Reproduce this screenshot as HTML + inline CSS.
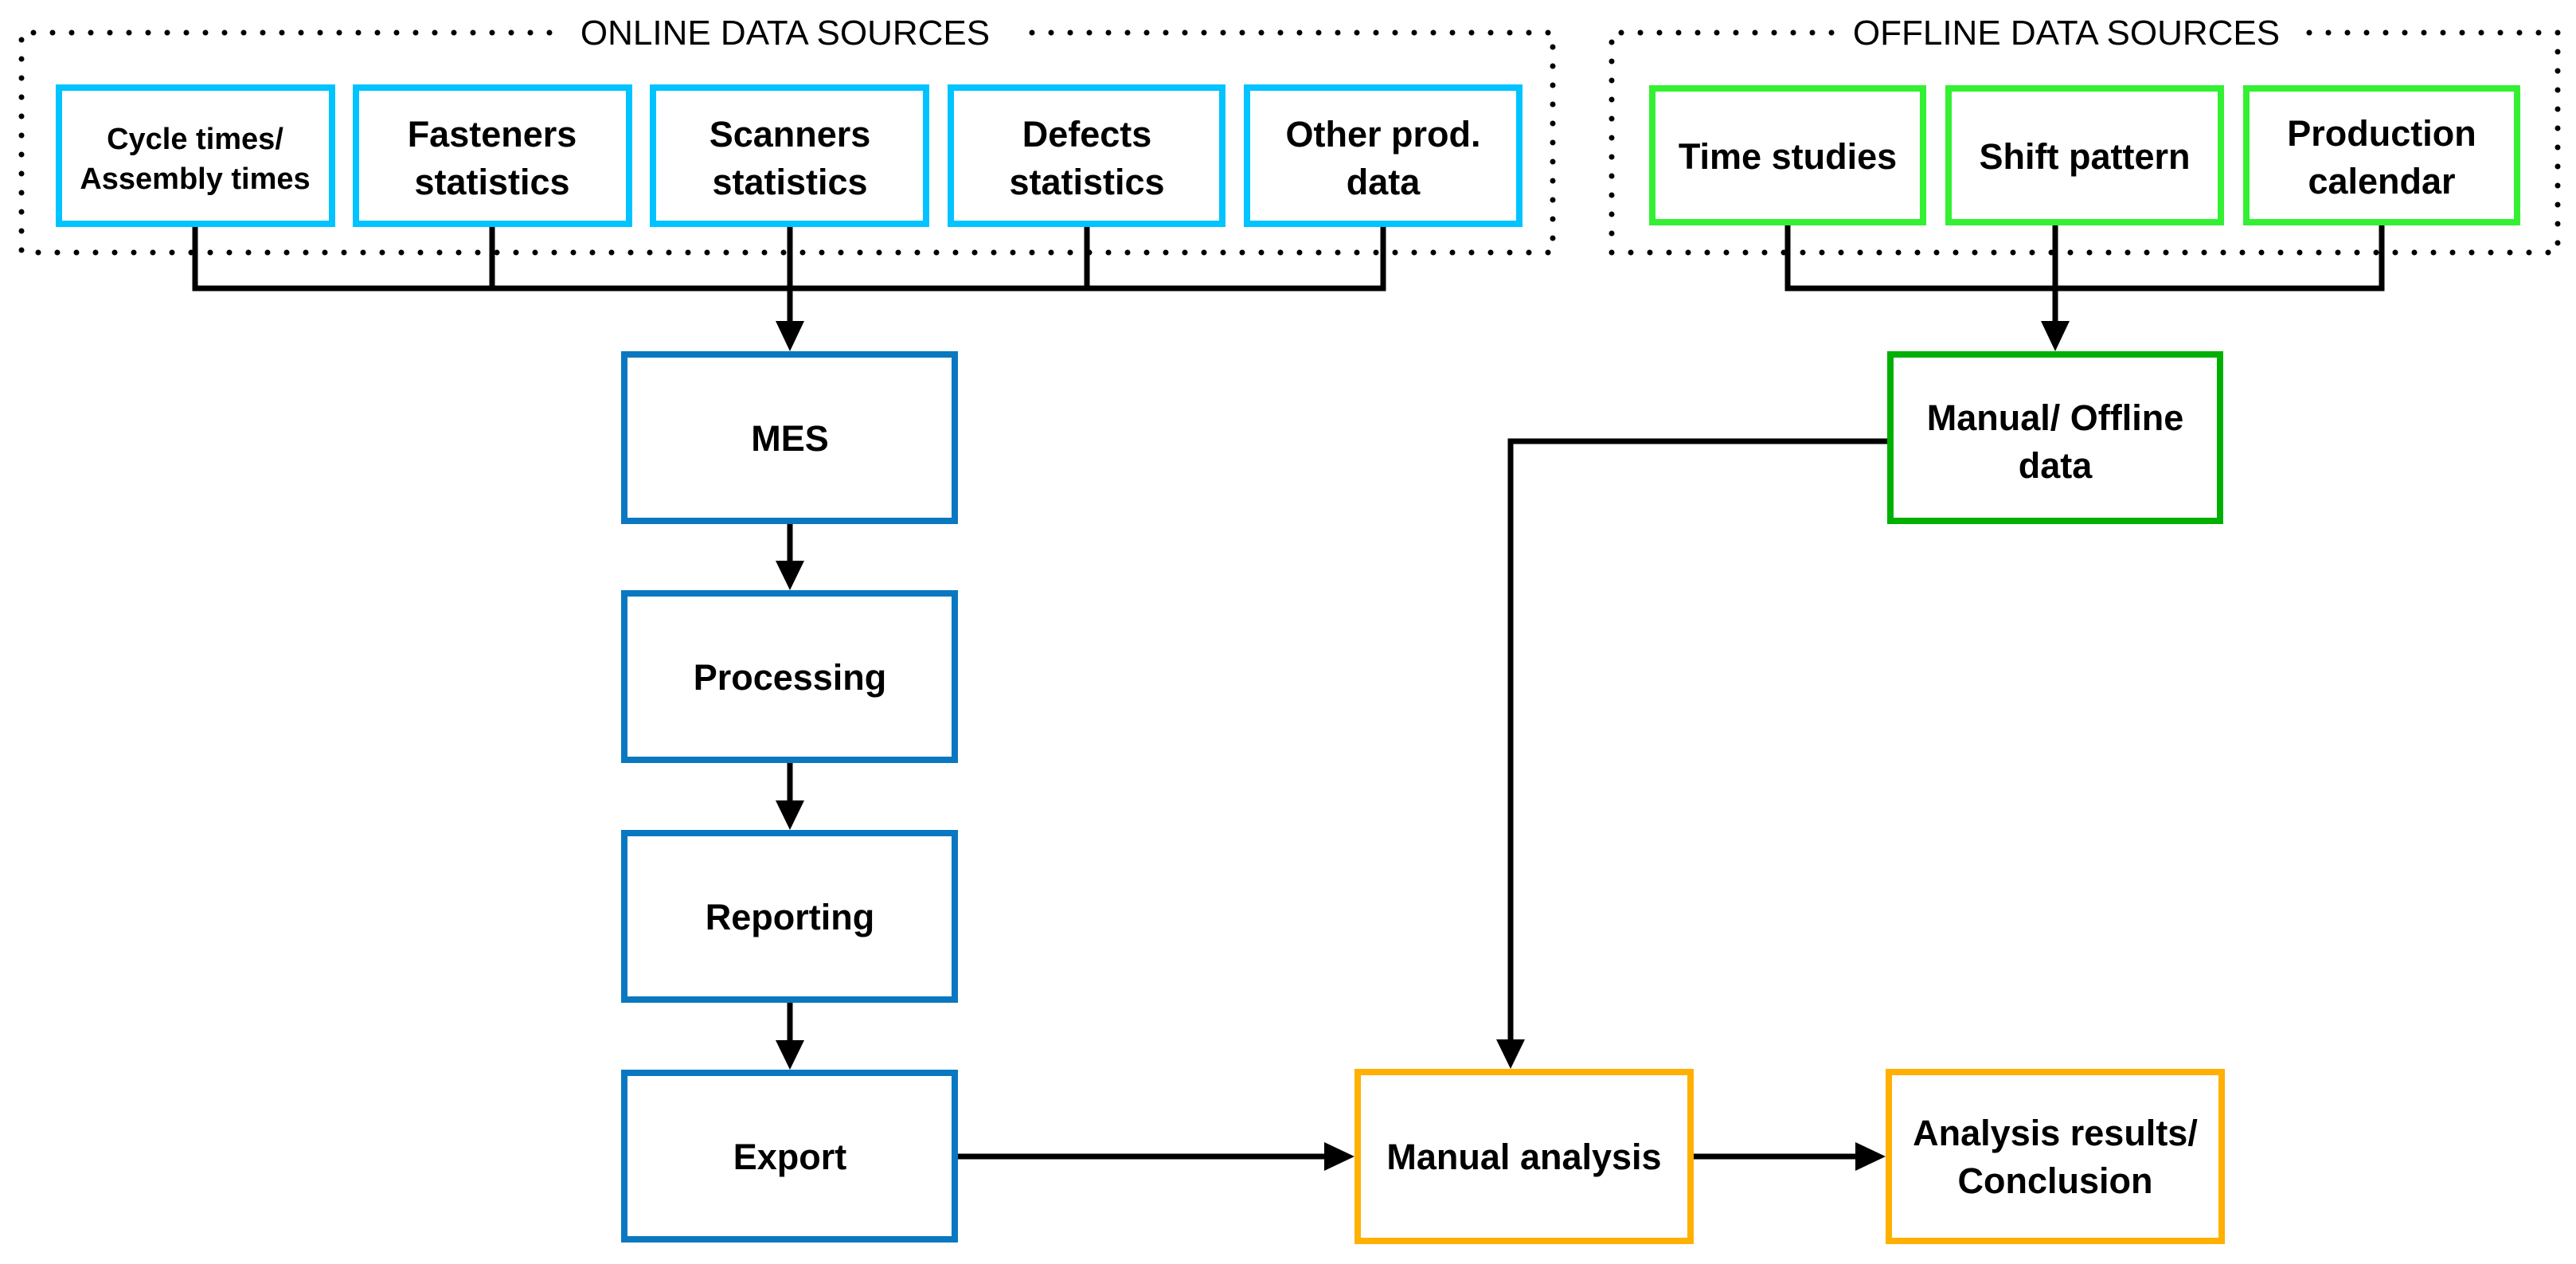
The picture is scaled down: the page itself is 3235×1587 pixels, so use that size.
<!DOCTYPE html>
<html><head><meta charset="utf-8"><style>
html,body{margin:0;padding:0;background:#fff;}
svg{display:block;}
text{font-family:"Liberation Sans",Arial,sans-serif;}
.b{font-weight:bold;font-size:45px;fill:#000;text-anchor:middle;}
.s{font-weight:bold;font-size:38px;fill:#000;text-anchor:middle;}
.t{font-size:44px;fill:#000;text-anchor:middle;}
</style></head><body>
<svg width="3235" height="1587" viewBox="0 0 3235 1587" xmlns="http://www.w3.org/2000/svg">
<!-- dotted containers -->
<g fill="none" stroke="#000" stroke-width="7" stroke-linecap="round" stroke-dasharray="0 24">
<path d="M690 41 H27 V317 H1950 V41 H1284"/>
<path d="M2300 41 H2024 V317 H3212 V41 H2892"/>
</g>
<text class="t" x="986" y="56">ONLINE DATA SOURCES</text>
<text class="t" x="2595" y="56">OFFLINE DATA SOURCES</text>

<!-- connectors -->
<g fill="none" stroke="#000" stroke-width="7">
<path d="M245 285 V362 H1737 V285"/>
<path d="M618 285 V362"/><path d="M992 285 V362"/><path d="M1365 285 V362"/>
<path d="M992 362 V405"/>
<path d="M2245 283 V362 H2991 V283"/>
<path d="M2581 283 V405"/>
<path d="M992 658 V706"/><path d="M992 958 V1007"/><path d="M992 1259 V1308"/>
<path d="M1203 1452 H1665"/>
<path d="M2127 1452 H2332"/>
<path d="M2370 554 H1897 V1307"/>
</g>
<g fill="#000">
<polygon points="974,403 1010,403 992,441"/>
<polygon points="2563,403 2599,403 2581,441"/>
<polygon points="974,704 1010,704 992,741"/>
<polygon points="974,1005 1010,1005 992,1042"/>
<polygon points="974,1306 1010,1306 992,1343"/>
<polygon points="1879,1305 1915,1305 1897,1342"/>
<polygon points="1663,1434 1663,1470 1701,1452"/>
<polygon points="2330,1434 2330,1470 2368,1452"/>
</g>

<!-- online boxes -->
<g fill="#fff" stroke="#00c3ff" stroke-width="8">
<rect x="74" y="110" width="343" height="171"/>
<rect x="447" y="110" width="343" height="171"/>
<rect x="820" y="110" width="343" height="171"/>
<rect x="1194" y="110" width="341" height="171"/>
<rect x="1566" y="110" width="342" height="171"/>
</g>
<text class="s" x="245" y="187">Cycle times/</text>
<text class="s" x="245" y="237">Assembly times</text>
<text class="b" x="618" y="184">Fasteners</text>
<text class="b" x="618" y="244">statistics</text>
<text class="b" x="992" y="184">Scanners</text>
<text class="b" x="992" y="244">statistics</text>
<text class="b" x="1365" y="184">Defects</text>
<text class="b" x="1365" y="244">statistics</text>
<text class="b" x="1737" y="184">Other prod.</text>
<text class="b" x="1737" y="244">data</text>

<!-- offline boxes -->
<g fill="#fff" stroke="#33f033" stroke-width="8">
<rect x="2075" y="111" width="340" height="168"/>
<rect x="2447" y="111" width="342" height="168"/>
<rect x="2821" y="111" width="340" height="168"/>
</g>
<text class="b" x="2245" y="212">Time studies</text>
<text class="b" x="2618" y="212">Shift pattern</text>
<text class="b" x="2991" y="183">Production</text>
<text class="b" x="2991" y="243">calendar</text>

<rect x="2374" y="445" width="414" height="209" fill="#fff" stroke="#00b000" stroke-width="8"/>
<text class="b" x="2581" y="540">Manual/ Offline</text>
<text class="b" x="2581" y="600">data</text>

<!-- process boxes -->
<g fill="#fff" stroke="#0a78c0" stroke-width="8">
<rect x="784" y="445" width="415" height="209"/>
<rect x="784" y="745" width="415" height="209"/>
<rect x="784" y="1046" width="415" height="209"/>
<rect x="784" y="1347" width="415" height="209"/>
</g>
<text class="b" x="992" y="566">MES</text>
<text class="b" x="992" y="866">Processing</text>
<text class="b" x="992" y="1167">Reporting</text>
<text class="b" x="992" y="1468">Export</text>

<g fill="#fff" stroke="#ffb000" stroke-width="8">
<rect x="1705" y="1346" width="418" height="212"/>
<rect x="2372" y="1346" width="418" height="212"/>
</g>
<text class="b" x="1914" y="1468">Manual analysis</text>
<text class="b" x="2581" y="1438">Analysis results/</text>
<text class="b" x="2581" y="1498">Conclusion</text>
</svg>
</body></html>
